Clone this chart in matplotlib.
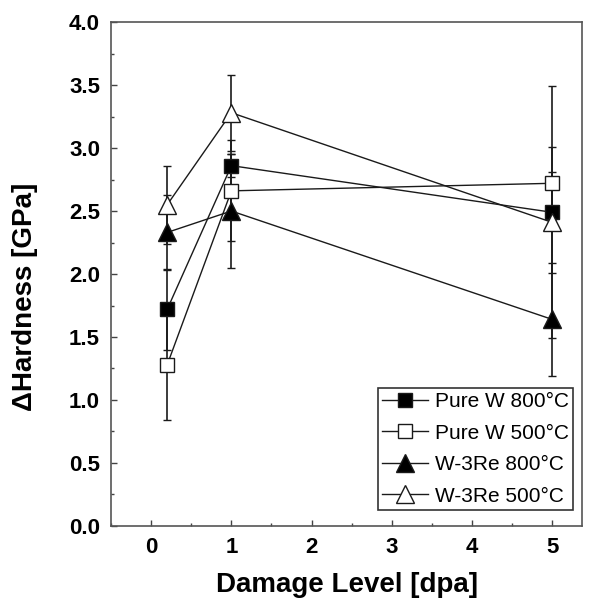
import numpy as np
import matplotlib.pyplot as plt
from matplotlib.ticker import MultipleLocator

plt.rcParams['font.family'] = ['Liberation Sans', 'DejaVu Sans']

# damage level (dpa)
dpa = [0.2, 1, 5]

pure_w_800 = [1.72, 2.86, 2.49]
pure_w_800_err = [0.32, 0.09, 1.00]

pure_w_500 = [1.28, 2.66, 2.72]
pure_w_500_err = [0.44, 0.40, 0.29]

w3re_800 = [2.33, 2.50, 1.64]
w3re_800_err = [0.30, 0.45, 0.45]

w3re_500 = [2.55, 3.28, 2.41]
w3re_500_err = [0.31, 0.30, 0.40]

labels = ["Pure W 800°C", "Pure W 500°C", "W-3Re 800°C", "W-3Re 500°C"]

fig = plt.figure(figsize=(5.91, 6.05), dpi=100)
ax = fig.add_axes([0.188, 0.1306, 0.797, 0.833])

series = [
    (pure_w_800, pure_w_800_err, 's', 'black', 10),
    (pure_w_500, pure_w_500_err, 's', 'white', 10),
    (w3re_800, w3re_800_err, '^', 'black', 13),
    (w3re_500, w3re_500_err, '^', 'white', 13),
]

handles = []
for (y, e, m, fc, ms), lab in zip(series, labels):
    c = ax.errorbar(dpa, y, yerr=e, fmt='-', marker=m, color='#1a1a1a', mfc=fc,
                    mec='#1a1a1a', ms=ms, mew=1.0, lw=1.0, elinewidth=1.2,
                    capsize=3, capthick=1.2, label=lab)
    handles.append(c[0])

ax.set_xlim(-0.5, 5.375)
ax.set_ylim(0, 4.0)
ax.xaxis.set_major_locator(MultipleLocator(1))
ax.xaxis.set_minor_locator(MultipleLocator(0.5))
ax.yaxis.set_major_locator(MultipleLocator(0.5))
ax.yaxis.set_minor_locator(MultipleLocator(0.25))
ax.yaxis.set_major_formatter(plt.FormatStrFormatter('%.1f'))

ax.tick_params(which='both', direction='in', top=False, right=False,
               color='#444444', width=1.0)
ax.tick_params(which='major', length=4, labelsize=16, pad=8)
ax.tick_params(which='minor', length=2.5)
for lbl in ax.get_xticklabels() + ax.get_yticklabels():
    lbl.set_fontweight('bold')
for sp in ax.spines.values():
    sp.set_color('#555555')
    sp.set_linewidth(1.2)

ax.set_xlabel("Damage Level [dpa]", fontsize=20, fontweight='bold', labelpad=10)
ax.set_ylabel("\u0394Hardness [GPa]", fontsize=20, fontweight='bold')
ax.yaxis.set_label_coords(-0.155, 0.455)

leg = ax.legend(handles=handles, labels=labels, loc='lower right',
                bbox_to_anchor=(0.981, 0.032), borderaxespad=0,
                fontsize=15, frameon=True, fancybox=False, framealpha=1,
                edgecolor='#333333', handlelength=2.2, labelspacing=0.6,
                borderpad=0.2, handletextpad=0.35)
leg.get_frame().set_linewidth(1.2)

fig.savefig("out.png", dpi=100)
